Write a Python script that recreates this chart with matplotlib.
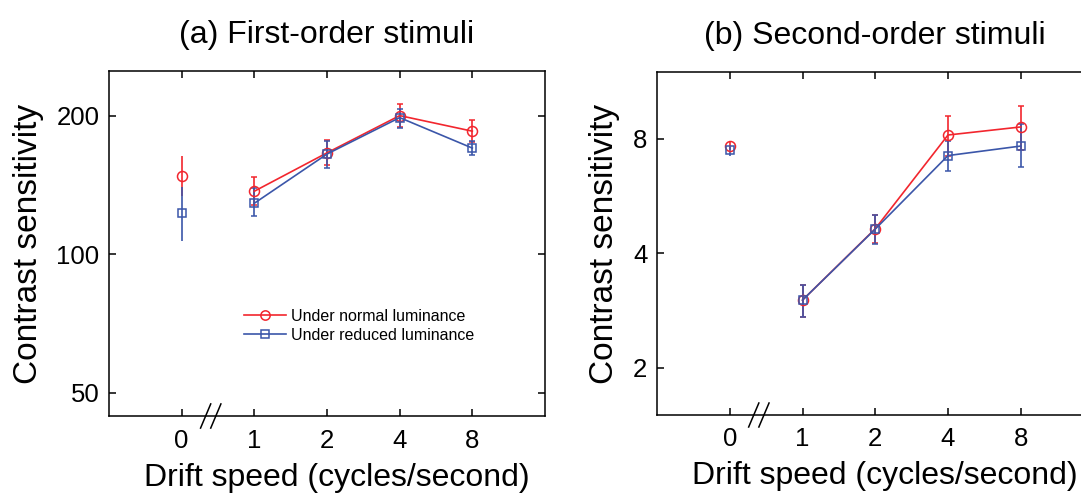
import matplotlib
matplotlib.use("Agg")
import matplotlib.pyplot as plt
from matplotlib.ticker import FixedLocator, NullLocator, FixedFormatter
from matplotlib.lines import Line2D
import numpy as np

plt.rcParams['font.family'] = ['Liberation Sans', 'DejaVu Sans']

# ---- data ----
speeds = ["0", "1", "2", "4", "8"]
xpos = [0, 1, 2, 3, 4]

# panel (a) first-order
a_normal = [148, 137, 166, 200, 185]
a_normal_lo = [134, 128, 156, 189, 175]
a_normal_hi = [163, 147, 177, 212, 196]
a_reduced = [123, 129, 165, 198, 170]
a_reduced_lo = [107, 121, 154, 188, 164]
a_reduced_hi = [140, 139.5, 176, 207, 176.5]

# panel (b) second-order
b_normal = [7.68, 3.01, 4.64, 8.19, 8.6]
b_normal_lo = [7.5, 2.72, 4.25, 7.21, 7.47]
b_normal_hi = [7.87, 3.30, 5.03, 9.2, 9.78]
b_reduced = [7.46, 3.01, 4.63, 7.23, 7.66]
b_reduced_lo = [7.2, 2.72, 4.24, 6.58, 6.73]
b_reduced_hi = [7.6, 3.30, 5.04, 7.92, 8.73]

a_yticks = [50, 100, 200]
b_yticks = [2, 4, 8]

RED = '#f2262e'
BLUE = '#3b56a9'
MS_C, MS_S = 7.2, 5.7

W, H = 1081, 493
fig = plt.figure(figsize=(W / 100, H / 100), dpi=100)

axA = fig.add_axes([109 / W, 1 - 416 / H, 436 / W, 345 / H])
axB = fig.add_axes([657 / W, 1 - 415 / H, 436.5 / W, 343 / H])


def draw(ax, normal, nlo, nhi, reduced, rlo, rhi, yticks, ylim, title):
    ax.set_yscale('log')
    for vals, lo, hi, col, mk, ms in [
        (normal, nlo, nhi, RED, 'o', MS_C),
        (reduced, rlo, rhi, BLUE, 's', MS_S),
    ]:
        v = np.array(vals, float)
        err = np.array([v - np.array(lo), np.array(hi) - v])
        ax.errorbar(xpos[:1], v[:1], yerr=err[:, :1], color=col, marker=mk,
                    ms=ms, mfc='none', mec=col, mew=1.1, lw=1.2,
                    elinewidth=1.2, capsize=0, linestyle='none')
        ax.errorbar(xpos[1:], v[1:], yerr=err[:, 1:], color=col, marker=mk,
                    ms=ms, mfc='none', mec=col, mew=1.1, lw=1.2,
                    elinewidth=1.2, capsize=2, capthick=1.2)
    ax.set_xlim(-1, 5)
    ax.set_ylim(*ylim)
    ax.xaxis.set_major_locator(FixedLocator(xpos))
    ax.xaxis.set_major_formatter(FixedFormatter(speeds))
    ax.yaxis.set_major_locator(FixedLocator(yticks))
    ax.yaxis.set_major_formatter(FixedFormatter([str(t) for t in yticks]))
    ax.yaxis.set_minor_locator(NullLocator())
    ax.tick_params(direction='in', length=5, width=1.1, top=True, right=True,
                   labelsize=18.5, pad=7)
    ax.tick_params(axis='x', pad=9)
    for s in ax.spines.values():
        s.set_linewidth(1.1)
    ax.set_xlabel('Drift speed (cycles/second)', fontsize=23)
    ax.xaxis.set_label_coords(0.522, -0.135)
    ax.set_ylabel('Contrast sensitivity', fontsize=24, labelpad=9)
    ax.set_title(title, fontsize=23, pad=20)
    # axis break marks "//"
    tr = ax.get_xaxis_transform()
    for dx in (-0.07, 0.07):
        ax.plot([0.33 + dx, 0.47 + dx], [-0.035, 0.035], transform=tr,
                color='black', lw=1.1, clip_on=False)


draw(axA, a_normal, a_normal_lo, a_normal_hi, a_reduced, a_reduced_lo,
     a_reduced_hi, a_yticks, (44.5, 250), '(a) First-order stimuli')
draw(axB, b_normal, b_normal_lo, b_normal_hi, b_reduced, b_reduced_lo,
     b_reduced_hi, b_yticks, (1.5, 12), '(b) Second-order stimuli')
axB.spines['right'].set_visible(False)

handles = [
    Line2D([], [], color=RED, marker='o', ms=MS_C - 0.5, mfc='none', mec=RED,
           mew=1.1, lw=1.2),
    Line2D([], [], color=BLUE, marker='s', ms=MS_S, mfc='none', mec=BLUE,
           mew=1.1, lw=1.2),
]
axA.legend(handles, ['Under normal luminance', 'Under reduced luminance'],
           loc='upper left', bbox_to_anchor=(0.31, 0.31),
           frameon=False, fontsize=11.5, handlelength=2.6, handletextpad=0.35,
           labelspacing=0.25, borderpad=0, borderaxespad=0)

fig.savefig('out.png', dpi=100)
